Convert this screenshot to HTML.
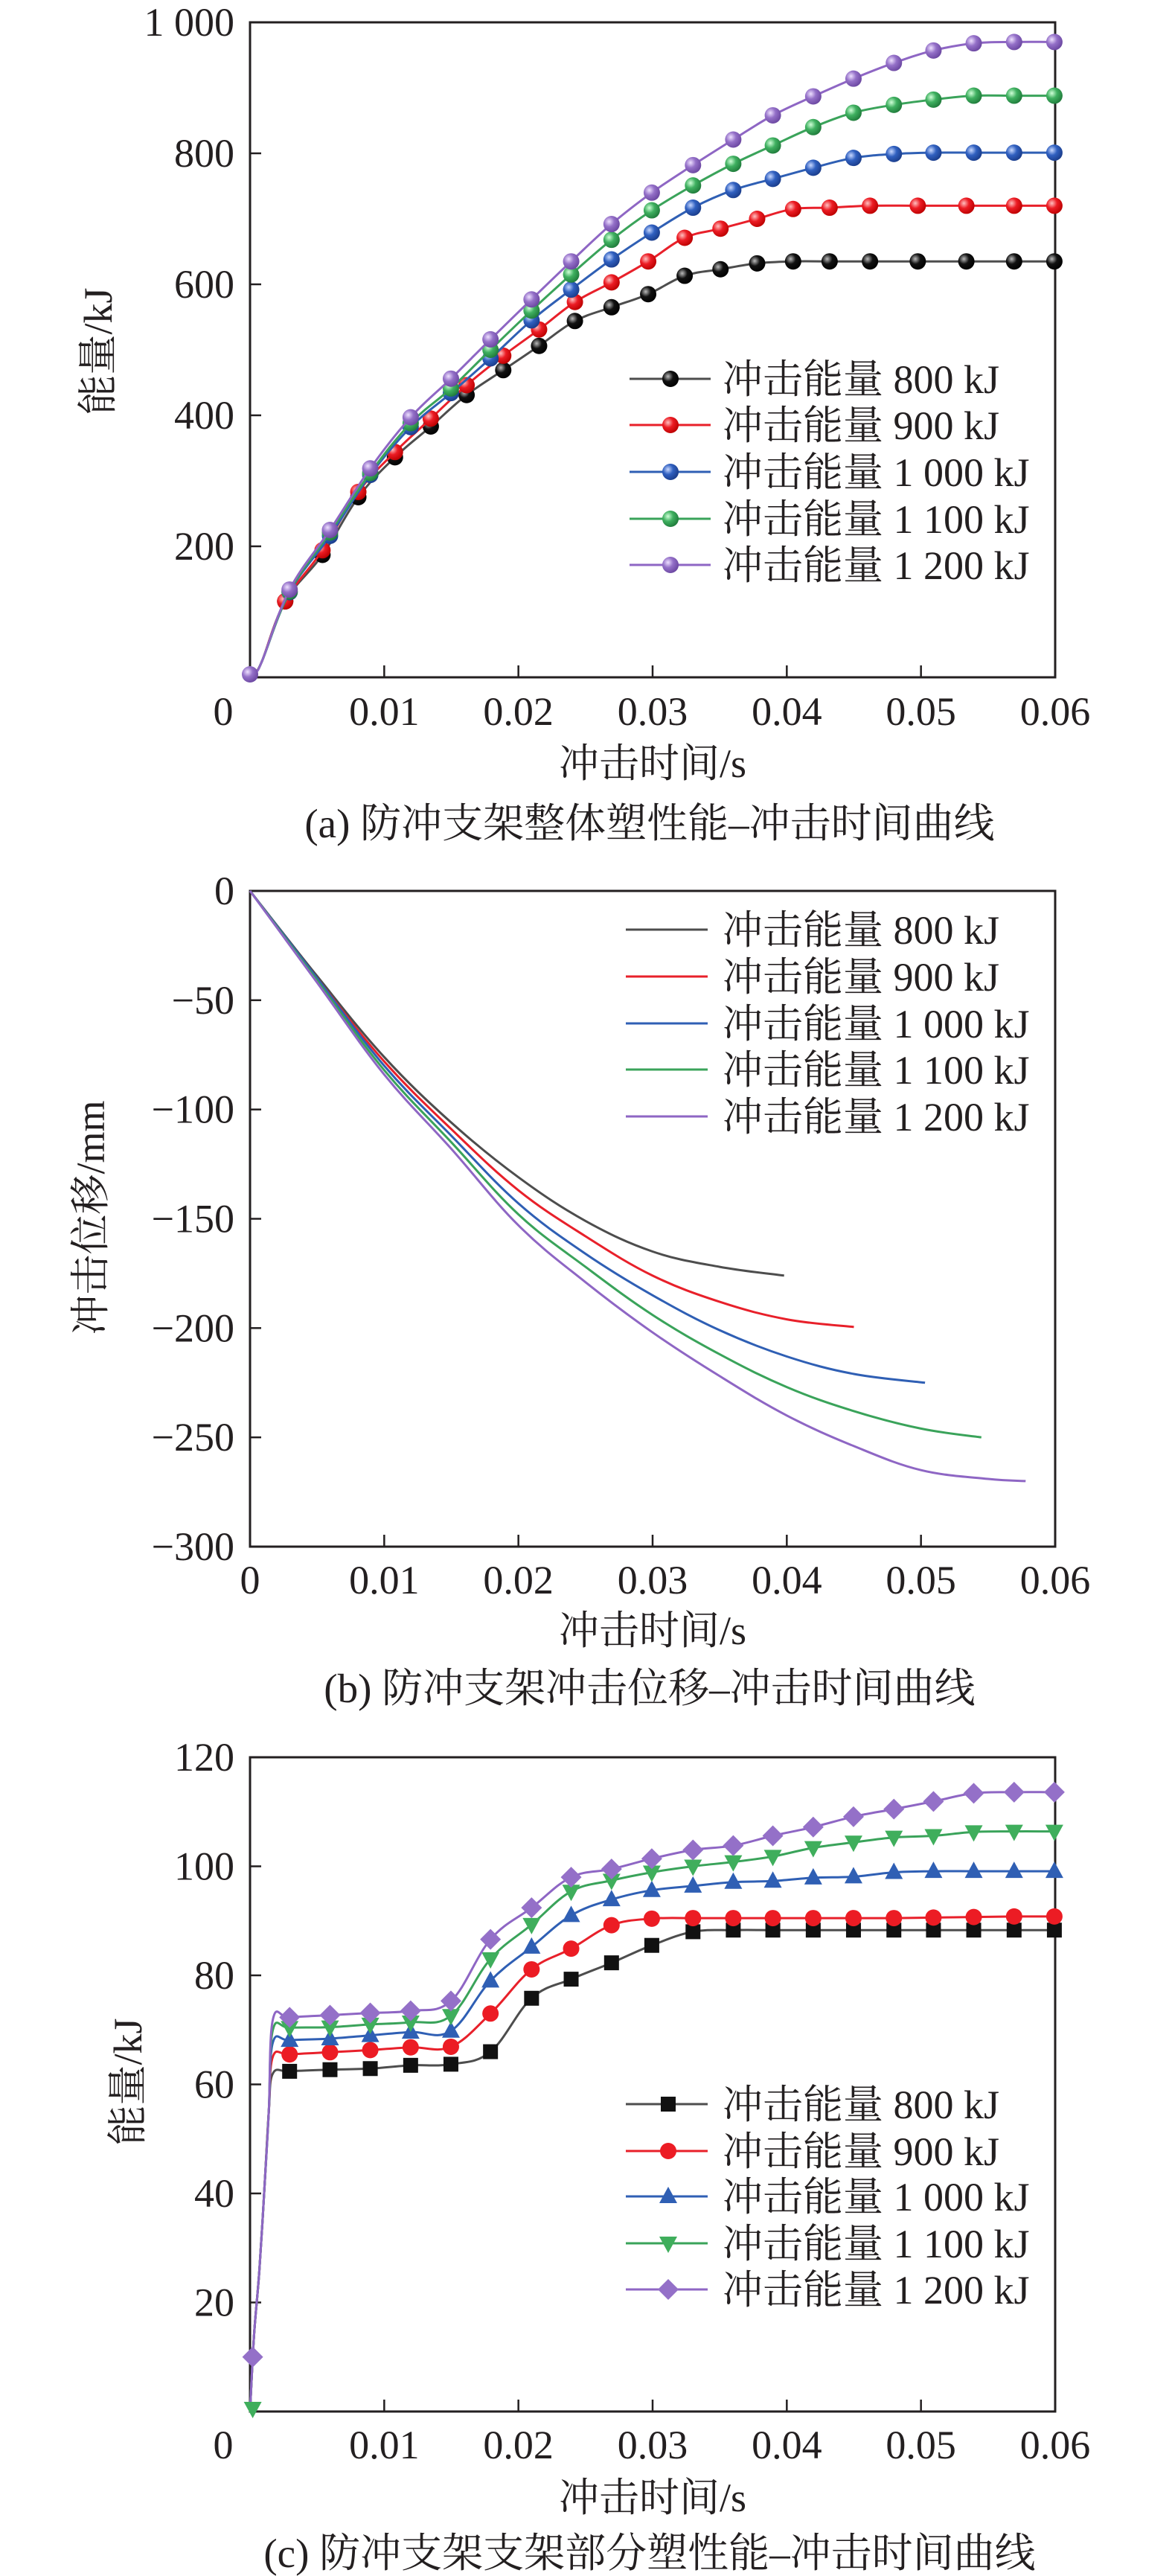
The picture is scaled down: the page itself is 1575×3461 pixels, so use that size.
<!DOCTYPE html>
<html><head><meta charset="utf-8">
<style>
html,body{margin:0;padding:0;background:#fff;}
svg{display:block;}
text{font-family:"Liberation Serif","Noto Serif CJK SC","Noto Sans CJK SC",serif;fill:#231f20;}
</style></head>
<body>
<svg id="fig" width="1575" height="3461" viewBox="0 0 1575 3461" xmlns="http://www.w3.org/2000/svg">
<defs>
<radialGradient id="gk" cx="0.35" cy="0.35" r="0.7"><stop offset="0" stop-color="#bbb"/><stop offset="0.45" stop-color="#111"/><stop offset="1" stop-color="#000"/></radialGradient>
<radialGradient id="gr" cx="0.35" cy="0.35" r="0.7"><stop offset="0" stop-color="#ffc0c0"/><stop offset="0.45" stop-color="#ec1c24"/><stop offset="1" stop-color="#b00"/></radialGradient>
<radialGradient id="gb" cx="0.35" cy="0.35" r="0.7"><stop offset="0" stop-color="#c8d8ff"/><stop offset="0.45" stop-color="#3060c0"/><stop offset="1" stop-color="#1a3c8a"/></radialGradient>
<radialGradient id="gg" cx="0.35" cy="0.35" r="0.7"><stop offset="0" stop-color="#d0ffd8"/><stop offset="0.45" stop-color="#3fb060"/><stop offset="1" stop-color="#1f7a3a"/></radialGradient>
<radialGradient id="gp" cx="0.35" cy="0.35" r="0.7"><stop offset="0" stop-color="#eee0ff"/><stop offset="0.45" stop-color="#9470c8"/><stop offset="1" stop-color="#6a46a0"/></radialGradient>
</defs>
</svg>
<script>
// ---------- shared ----------
const legendLabels = ["冲击能量 800 kJ","冲击能量 900 kJ","冲击能量 1 000 kJ","冲击能量 1 100 kJ","冲击能量 1 200 kJ"];
const xTicks = [0,0.01,0.02,0.03,0.04,0.05,0.06];
const xTickLabels = ["0","0.01","0.02","0.03","0.04","0.05","0.06"];

// ---------- chart (a) ----------
const aTicksY = [200,400,600,800,1000];
const aTickLabelsY = ["200","400","600","800","1 000"];
const aTimeA = [0.00262,0.0054,0.00807,0.0108,0.01347,0.01614,0.01887,0.02154,0.02421,0.02694,0.02967,0.03239,0.03506,0.03779,0.04047,0.04319,0.0462,0.04976,0.05338,0.05694,0.05994];
const aTimeB = [0.00295,0.00596,0.00896,0.01197,0.01497,0.01792,0.02098,0.02393,0.02694,0.02994,0.03301,0.03601,0.03896,0.04197,0.04497,0.04798,0.05093,0.05393,0.05694,0.05994];
const a800 = [116,187,275,336,383,431,469,506,544,565,585,613,623,632,635,635,635,635,635,635,635];
const a900 = [116,194,283,344,395,446,491,531,573,603,635,671,685,700,715,717,720,720,720,720,720];
const a1000 = [130,216,309,382,434,487,545,592,638,679,717,744,761,778,793,799,801,801,801,801];
const a1100 = [131,221,312,388,441,500,560,615,668,713,751,784,812,840,862,874,882,888,888,888];
const a1200 = [134,225,319,397,456,516,577,635,692,740,782,821,858,887,914,938,957,968,970,970];
const aStartT = [0,0.0004,0.0009];
const aStartV = [0,8,25];

// ---------- chart (b) ----------
const bTicksY = [0,-50,-100,-150,-200,-250,-300];
const bTickLabelsY = ["0","\u221250","\u2212100","\u2212150","\u2212200","\u2212250","\u2212300"];
const bT800 = [0,0.005,0.01,0.015,0.02,0.025,0.03,0.035,0.0398];
const b800 = [0,-39,-76,-106,-131,-151,-165,-172,-176];
const bT900 = [0,0.005,0.01,0.015,0.02,0.025,0.03,0.035,0.04,0.045];
const b900 = [0,-40,-78,-109,-137,-158,-176,-188,-196,-199.5];
const bT1000 = [0,0.005,0.01,0.015,0.02,0.025,0.03,0.035,0.04,0.045,0.0503];
const b1000 = [0,-40,-80,-112,-143,-166,-185,-201,-213,-221,-225];
const bT1100 = [0,0.005,0.01,0.015,0.02,0.025,0.03,0.035,0.04,0.045,0.05,0.0545];
const b1100 = [0,-41,-82,-115,-148,-172,-194,-212,-227,-238,-246,-250];
const bT1200 = [0,0.005,0.01,0.015,0.02,0.025,0.03,0.035,0.04,0.045,0.05,0.055,0.0578];
const b1200 = [0,-42,-84,-118,-153,-179,-202,-222,-240,-254,-265,-269,-270];

// ---------- chart (c) ----------
const cTicksY = [20,40,60,80,100,120];
const cTickLabelsY = ["20","40","60","80","100","120"];
const cTime = [0.00295,0.00596,0.00896,0.01197,0.01497,0.01792,0.02098,0.02393,0.02694,0.02994,0.03301,0.03601,0.03896,0.04197,0.04497,0.04798,0.05093,0.05393,0.05694,0.05994];
const c800 = [62.4,62.7,62.9,63.5,63.7,66.0,75.8,79.3,82.3,85.5,88.0,88.3,88.3,88.3,88.3,88.3,88.3,88.3,88.3,88.3];
const c900 = [65.5,65.9,66.3,66.8,66.9,73.0,81.1,84.9,89.2,90.4,90.5,90.5,90.5,90.5,90.5,90.5,90.6,90.7,90.8,90.8];
const c1000 = [68.1,68.4,69.0,69.6,69.8,79.0,85.2,91.0,93.9,95.6,96.4,97.1,97.3,97.9,98.1,98.9,99.1,99.1,99.1,99.1];
const c1100 = [70.4,70.5,71.0,71.4,72.6,83.0,89.3,95.4,97.4,98.9,100.0,100.8,101.8,103.4,104.4,105.3,105.6,106.3,106.4,106.4];
const c1200 = [72.3,72.7,73.1,73.5,75.3,86.6,92.4,98.0,99.5,101.4,103.0,103.8,105.6,107.2,109.1,110.5,111.9,113.4,113.6,113.6];
const cStartT = [0,0.0003,0.0007,0.0011,0.0014,0.0017];
const cStartV = [0,14,26,42,55];

const colors = ["#4d4d4d","#e8202a","#2f5fb4","#3aa35a","#8e66c4"];
const markFill = ["#111","#ec1c24","#2f5fb4","#3fae5c","#9470c8"];
const grads = ["url(#gk)","url(#gr)","url(#gb)","url(#gg)","url(#gp)"];

const svg = document.getElementById('fig');
const NS = "http://www.w3.org/2000/svg";
function el(tag, attrs, parent){
  const e = document.createElementNS(NS, tag);
  for (const k in attrs) e.setAttribute(k, attrs[k]);
  (parent||svg).appendChild(e);
  return e;
}
function smoothPath(pts){
  let d = "M" + pts[0][0].toFixed(1) + "," + pts[0][1].toFixed(1);
  for (let i=0;i<pts.length-1;i++){
    const p0 = pts[i-1]||pts[i], p1 = pts[i], p2 = pts[i+1], p3 = pts[i+2]||p2;
    const t = 0.18;
    const c1x = p1[0] + (p2[0]-p0[0])*t, c1y = p1[1] + (p2[1]-p0[1])*t;
    const c2x = p2[0] - (p3[0]-p1[0])*t, c2y = p2[1] - (p3[1]-p1[1])*t;
    d += " C"+c1x.toFixed(1)+","+c1y.toFixed(1)+" "+c2x.toFixed(1)+","+c2y.toFixed(1)+" "+p2[0].toFixed(1)+","+p2[1].toFixed(1);
  }
  return d;
}

function axes(cfg){
  const g = el('g',{});
  
  
  const L=cfg.L,R=cfg.R,T=cfg.T,B=cfg.B;
  const xs = v => L + (v-0)/(0.06)*(R-L);
  const ys = v => B - (v-cfg.ymin)/(cfg.ymax-cfg.ymin)*(B-T);
  const frame = el('rect',{x:L,y:T,width:R-L,height:B-T,fill:'none',stroke:'#231f20','stroke-width':3},g);
  
  
  xTicks.forEach((v,i)=>{
    const x = xs(v);
    if (i>0 && i<xTicks.length-1){
      const tk = el('line',{x1:x,y1:B,x2:x,y2:B-16,stroke:'#231f20','stroke-width':2.5},g);
      
      
    }
    const lab = el('text',{x:(i===0? x-cfg.zeroOff : x),y:cfg.xLabY,'font-size':54,'text-anchor':'middle'},g);
    lab.textContent = xTickLabels[i];
    
    
  });
  cfg.yTicks.forEach((v,i)=>{
    const y = ys(v);
    if (v!==cfg.ymax && v!==cfg.ymin){
      const tk = el('line',{x1:L,y1:y,x2:L+15,y2:y,stroke:'#231f20','stroke-width':2.5},g);
      
      
    }
    const lab = el('text',{x:L-21,y:y+18,'font-size':54,'text-anchor':'end'},g);
    lab.textContent = cfg.yLabels[i];
    
    
  });
  const xt = el('text',{x:(L+R)/2,y:cfg.xTitleY,'font-size':54,'text-anchor':'middle'},g);
  xt.textContent = "冲击时间/s";
  
  
  const yt = el('text',{x:0,y:0,'font-size':54,'text-anchor':'middle',transform:'translate('+cfg.yTitleX+','+cfg.yTitleY+') rotate(-90)'},g);
  yt.textContent = cfg.yTitle;
  
  
  const cap = el('text',{x:873,y:cfg.capY,'font-size':55,'text-anchor':'middle'},g);
  cap.textContent = cfg.caption;
  
  
  return {g,xs,ys};
}

function marker(shape,x,y,i,parent){
  let m;
  if (shape==='ball'){
    m = el('circle',{cx:x,cy:y,r:11,fill:grads[i]},parent);
  } else if (shape==='square'){
    m = el('rect',{x:x-10,y:y-10,width:20,height:20,fill:markFill[i]},parent);
  } else if (shape==='circle'){
    m = el('circle',{cx:x,cy:y,r:11,fill:markFill[i]},parent);
  } else if (shape==='up'){
    m = el('polygon',{points:(x)+','+(y-13)+' '+(x-12)+','+(y+9)+' '+(x+12)+','+(y+9),fill:markFill[i]},parent);
  } else if (shape==='down'){
    m = el('polygon',{points:(x)+','+(y+13)+' '+(x-12)+','+(y-9)+' '+(x+12)+','+(y-9),fill:markFill[i]},parent);
  } else {
    m = el('polygon',{points:(x)+','+(y-14)+' '+(x+14)+','+(y)+' '+(x)+','+(y+14)+' '+(x-14)+','+(y),fill:markFill[i]},parent);
  }
  return m;
}

function legend(parent, x1, x2, mx, tx, ys, shapes){
  const lg = el('g',{},parent);
  
  
  legendLabels.forEach((lab,i)=>{
    const e = el('g',{},lg);
    
    
    el('line',{x1:x1,y1:ys[i],x2:x2,y2:ys[i],stroke:colors[i],'stroke-width':3},e);
    if (shapes) marker(shapes[i],mx,ys[i],i,e);
    const t = el('text',{x:tx,y:ys[i]+19,'font-size':54},e);
    t.textContent = lab;
  });
}

// ----- (a)
(function(){
  const A = axes({name:'chart-a',L:336,R:1418,T:30,B:910,ymin:0,ymax:1000,yTicks:aTicksY,yLabels:aTickLabelsY,zeroOff:36,
    xLabY:974,xTitleY:1044,yTitle:"能量/kJ",yTitleX:150,yTitleY:472,capY:1125,caption:"(a) 防冲支架整体塑性能–冲击时间曲线"});
  const series = [[aTimeA,a800],[aTimeA,a900],[aTimeB,a1000],[aTimeB,a1100],[aTimeB,a1200]];
  series.forEach((s,i)=>{
    const sg = el('g',{},A.g);
    
    
    const pts = aStartT.map((t,k)=>[A.xs(t),A.ys(aStartV[k])]).concat(s[0].map((t,k)=>[A.xs(t),A.ys(s[1][k])]));
    el('path',{d:smoothPath(pts),fill:'none',stroke:colors[i],'stroke-width':3},sg);
    s[0].forEach((t,k)=>{
      const m = marker('ball',A.xs(t),A.ys(s[1][k]),i,sg);
      
      
    });
  });
  marker('ball',A.xs(0),A.ys(0)-4,4,A.g);
  legend(A.g,846,955,901,971,[509,571,634,697,759],['ball','ball','ball','ball','ball']);
})();

// ----- (b)
(function(){
  const Bc = axes({name:'chart-b',L:336,R:1418,T:1197,B:2078,ymin:-300,ymax:0,yTicks:bTicksY,yLabels:bTickLabelsY,zeroOff:0,
    xLabY:2141,xTitleY:2209,yTitle:"冲击位移/mm",yTitleX:140,yTitleY:1636,capY:2287,caption:"(b) 防冲支架冲击位移–冲击时间曲线"});
  const series = [[bT800,b800],[bT900,b900],[bT1000,b1000],[bT1100,b1100],[bT1200,b1200]];
  series.forEach((s,i)=>{
    const p = el('path',{d:smoothPath(s[0].map((t,k)=>[Bc.xs(t),Bc.ys(s[1][k])])),fill:'none',stroke:colors[i],'stroke-width':3},Bc.g);
    
    
  });
  legend(Bc.g,841,951,0,971,[1249,1312,1375,1437,1500],null);
})();

// ----- (c)
(function(){
  const C = axes({name:'chart-c',L:336,R:1418,T:2361,B:3240,ymin:0,ymax:120,yTicks:cTicksY,yLabels:cTickLabelsY,zeroOff:36,
    xLabY:3303,xTitleY:3374,yTitle:"能量/kJ",yTitleX:190,yTitleY:2797,capY:3449,caption:"(c) 防冲支架支架部分塑性能–冲击时间曲线"});
  const series = [c800,c900,c1000,c1100,c1200];
  const shapes = ['square','circle','up','down','diamond'];
  series.forEach((vals,i)=>{
    const sg = el('g',{},C.g);
    
    
    const startV = cStartV.concat([vals[0]-0.4]);
    const pts = cStartT.map((t,k)=>[C.xs(t),C.ys(startV[k])]).concat(cTime.map((t,k)=>[C.xs(t),C.ys(vals[k])]));
    el('path',{d:smoothPath(pts),fill:'none',stroke:colors[i],'stroke-width':3},sg);
    cTime.forEach((t,k)=>{
      const m = marker(shapes[i],C.xs(t),C.ys(vals[k]),i,sg);
      
      
    });
  });
  marker('down',C.xs(0.0002),C.ys(0)-4,3,C.g);
  marker('diamond',C.xs(0.0002),C.ys(10),4,C.g);
  legend(C.g,841,951,898,971,[2827,2890,2951,3014,3076],shapes);
})();
</script>
</body></html>
